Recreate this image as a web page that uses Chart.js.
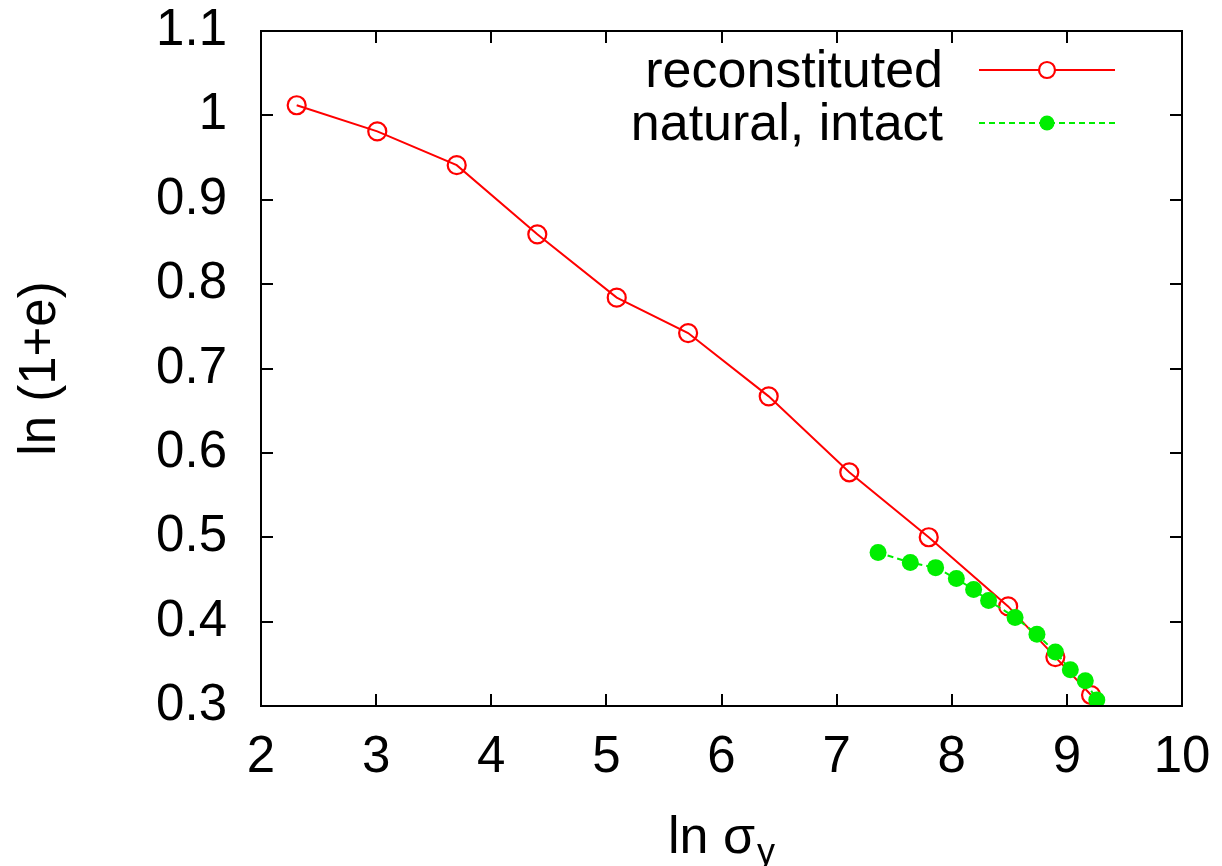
<!DOCTYPE html>
<html>
<head>
<meta charset="utf-8">
<script src="https://cdn.jsdelivr.net/npm/chart.js@4/dist/chart.umd.min.js"></script>
<style>
  html, body { margin: 0; padding: 0; background: #fff; }
  #wrap { width: 1222px; height: 866px; }
</style>
</head>
<body>
<div id="wrap"><canvas id="c" width="1222" height="866"></canvas></div>
<script>
// reconstituted sample
const reconX = [2.31, 3.01, 3.70, 4.40, 5.09, 5.71, 6.41, 7.11, 7.80, 8.49, 8.90, 9.21];
const reconY = [1.012, 0.981, 0.941, 0.859, 0.784, 0.742, 0.667, 0.577, 0.500, 0.418, 0.358, 0.313];

// natural, intact sample
const natX = [7.36, 7.64, 7.86, 8.04, 8.19, 8.32, 8.55, 8.74, 8.90, 9.03, 9.16, 9.26];
const natY = [0.482, 0.470, 0.464, 0.451, 0.438, 0.425, 0.405, 0.385, 0.364, 0.343, 0.330, 0.307];

const xTicks = [2, 3, 4, 5, 6, 7, 8, 9, 10];
const yTicks = [0.3, 0.4, 0.5, 0.6, 0.7, 0.8, 0.9, 1.0, 1.1];

const FONT = "'Liberation Sans', Arial, Helvetica, sans-serif";

function toPoints(xs, ys) {
    return xs.map((x, i) => ({ x: x, y: ys[i] }));
}

// frame, inward ticks, legend and axis titles (gnuplot look)
const frame = {
    id: 'frame',
    afterDraw(chart) {
        const ctx = chart.ctx;
        const a = chart.chartArea;
        const xs = chart.scales.x, ys = chart.scales.y;
        ctx.save();
        ctx.strokeStyle = '#000';
        ctx.lineWidth = 2;
        ctx.strokeRect(a.left, a.top, a.right - a.left, a.bottom - a.top);
        const t = 12;
        ctx.beginPath();
        xTicks.forEach(v => {
            const p = Math.round(xs.getPixelForValue(v));
            ctx.moveTo(p, a.bottom); ctx.lineTo(p, a.bottom - t);
            ctx.moveTo(p, a.top); ctx.lineTo(p, a.top + t);
        });
        yTicks.forEach(v => {
            const p = Math.round(ys.getPixelForValue(v));
            ctx.moveTo(a.left, p); ctx.lineTo(a.left + t, p);
            ctx.moveTo(a.right, p); ctx.lineTo(a.right - t, p);
        });
        ctx.stroke();

        // legend
        ctx.font = '52px ' + FONT;
        ctx.fillStyle = '#000';
        ctx.textAlign = 'right';
        ctx.textBaseline = 'alphabetic';
        const textRight = 943, l0 = 979, l1 = 1115, mx = 1047;
        const rows = [
            { label: 'reconstituted', y: 70, ds: chart.data.datasets[0] },
            { label: 'natural, intact', y: 123, ds: chart.data.datasets[1] }
        ];
        rows.forEach(r => {
            ctx.fillStyle = '#000';
            ctx.fillText(r.label, textRight, r.y + 17);
            ctx.strokeStyle = r.ds.borderColor;
            ctx.lineWidth = r.ds.borderWidth;
            ctx.setLineDash(r.ds.borderDash || []);
            ctx.beginPath();
            ctx.moveTo(l0, r.y); ctx.lineTo(l1, r.y);
            ctx.stroke();
            ctx.setLineDash([]);
            ctx.beginPath();
            ctx.arc(mx, r.y, r.ds.pointRadius - 1, 0, Math.PI * 2);
            if (r.ds.pointBackgroundColor !== 'transparent') {
                ctx.fillStyle = r.ds.pointBackgroundColor;
                ctx.fill();
            } else {
                ctx.fillStyle = '#fff';
                ctx.fill();
                ctx.lineWidth = r.ds.pointBorderWidth;
                ctx.strokeStyle = r.ds.pointBorderColor;
                ctx.stroke();
            }
        });

        // y axis title
        ctx.fillStyle = '#000';
        ctx.save();
        ctx.translate(39, (a.top + a.bottom) / 2);
        ctx.rotate(-Math.PI / 2);
        ctx.textAlign = 'center';
        ctx.textBaseline = 'middle';
        ctx.font = '51px ' + FONT;
        ctx.fillText('ln (1+e)', 0, 2);
        ctx.restore();

        // x axis title with subscript
        ctx.textAlign = 'left';
        ctx.textBaseline = 'alphabetic';
        ctx.font = '52px ' + FONT;
        const main = 'ln \u03c3';
        const w = ctx.measureText(main).width;
        ctx.font = '36px ' + FONT;
        const ws = ctx.measureText('y').width;
        const cx = (a.left + a.right) / 2;
        const x0 = cx - (w + ws + 2) / 2;
        ctx.font = '52px ' + FONT;
        ctx.fillText(main, x0, 853);
        ctx.font = '36px ' + FONT;
        ctx.fillText('y', x0 + w + 2, 864);
        ctx.restore();
    }
};

new Chart(document.getElementById('c'), {
    type: 'scatter',
    data: {
        datasets: [
            {
                label: 'reconstituted',
                data: toPoints(reconX, reconY),
                showLine: true,
                borderColor: '#ff0000',
                borderWidth: 2,
                pointRadius: 9,
                pointBorderWidth: 2.2,
                pointBorderColor: '#ff0000',
                pointBackgroundColor: 'transparent',
                order: 2
            },
            {
                label: 'natural, intact',
                data: toPoints(natX, natY),
                showLine: true,
                borderColor: '#00ee00',
                borderWidth: 2,
                borderDash: [6, 4],
                pointRadius: 8.5,
                pointBorderWidth: 0,
                pointBorderColor: '#00ee00',
                pointBackgroundColor: '#00ee00',
                order: 1
            }
        ]
    },
    options: {
        responsive: false,
        animation: false,
        events: [],
        layout: { padding: { left: 0, top: 31, right: 40, bottom: 0 } },
        plugins: {
            legend: { display: false },
            tooltip: { enabled: false }
        },
        scales: {
            x: {
                type: 'linear',
                min: 2, max: 10,
                grid: { display: false },
                border: { display: false },
                afterBuildTicks: s => { s.ticks = xTicks.map(v => ({ value: v })); },
                afterFit: s => { s.height = 160; s.paddingLeft = 0; s.paddingRight = 0; },
                ticks: {
                    color: '#000',
                    padding: 13,
                    maxRotation: 0,
                    font: { family: FONT, size: 51 },
                    callback: v => String(v)
                }
            },
            y: {
                type: 'linear',
                min: 0.3, max: 1.1,
                grid: { display: false },
                border: { display: false },
                afterBuildTicks: s => { s.ticks = yTicks.map(v => ({ value: v })); },
                afterFit: s => { s.width = 261; s.paddingTop = 0; s.paddingBottom = 0; },
                ticks: {
                    color: '#000',
                    padding: 26,
                    font: { family: FONT, size: 51 },
                    callback: v => String(Number(v.toFixed(1)))
                }
            }
        }
    },
    plugins: [frame]
});
</script>
</body>
</html>
